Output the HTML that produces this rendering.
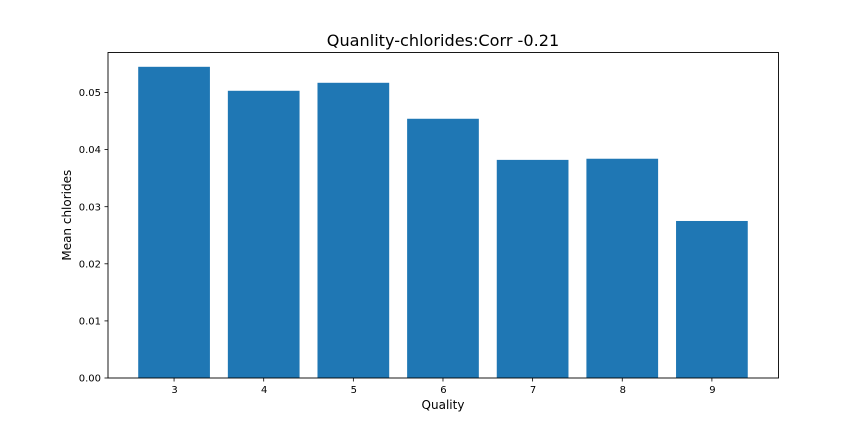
<!DOCTYPE html>
<html>
<head>
<meta charset="utf-8">
<style>
html,body{margin:0;padding:0;background:#fff;width:864px;height:432px;overflow:hidden}
svg{display:block}
text{font-family:"DejaVu Sans",sans-serif;fill:#000}
</style>
</head>
<body>
<svg id="chart" width="864" height="432" viewBox="0 0 864 432" xmlns="http://www.w3.org/2000/svg">
<text x="443" y="46" font-size="16.1" text-anchor="middle">Quanlity-chlorides:Corr -0.21</text>
<text x="443" y="409" font-size="12" text-anchor="middle">Quality</text>
<text transform="translate(71,215.2) rotate(-90)" font-size="12" text-anchor="middle">Mean chlorides</text>
<g id="bars"></g>
<g id="ticks"></g>
<rect x="108" y="52.5" width="670.5" height="325.5" fill="none" stroke="#000" stroke-width="0.9"></rect>
</svg>
<script>
const categories = [3, 4, 5, 6, 7, 8, 9];
const meanChlorides = [0.0545, 0.0503, 0.0517, 0.0454, 0.0382, 0.0384, 0.0275];
const yTicks = [0, 0.01, 0.02, 0.03, 0.04, 0.05];
const yTickLabels = ['0.00', '0.01', '0.02', '0.03', '0.04', '0.05'];

const NS = 'http://www.w3.org/2000/svg';
const plotLeft = 108, plotRight = 778.5, plotBottom = 378;
const xMin = 2.263, xMax = 9.743, pxPerUnitY = 5710, barWidth = 0.8;
const xScale = v => plotLeft + (v - xMin) / (xMax - xMin) * (plotRight - plotLeft);
const yScale = v => plotBottom - v * pxPerUnitY;

const barsGroup = document.getElementById('bars');
const ticksGroup = document.getElementById('ticks');

function make(tag, attrs, parent) {
  const el = document.createElementNS(NS, tag);
  for (const k in attrs) el.setAttribute(k, attrs[k]);
  parent.appendChild(el);
  return el;
}

categories.forEach((c, i) => {
  const top = yScale(meanChlorides[i]);
  const left = xScale(c - barWidth / 2);
  const bar = make('rect', {
    x: left, y: top,
    width: xScale(c + barWidth / 2) - left,
    height: plotBottom - top,
    fill: '#1f77b4'
  }, barsGroup);
  
  

  const x = xScale(c);
  const tick = make('line', { x1: x, x2: x, y1: plotBottom, y2: plotBottom + 3.5, stroke: '#000', 'stroke-width': 0.8 }, ticksGroup);
  
  
  const label = make('text', { x: x + 0.5, y: plotBottom + 15, 'font-size': 10, 'text-anchor': 'middle' }, ticksGroup);
  label.textContent = String(c);
  
  
});

yTicks.forEach((v, i) => {
  const y = yScale(v);
  const tick = make('line', { x1: plotLeft - 3.5, x2: plotLeft, y1: y, y2: y, stroke: '#000', 'stroke-width': 0.8 }, ticksGroup);
  
  
  const label = make('text', { x: plotLeft - 7, y: y + 3.6, 'font-size': 10, 'text-anchor': 'end' }, ticksGroup);
  label.textContent = yTickLabels[i];
  
  
});
</script>
</body>
</html>
